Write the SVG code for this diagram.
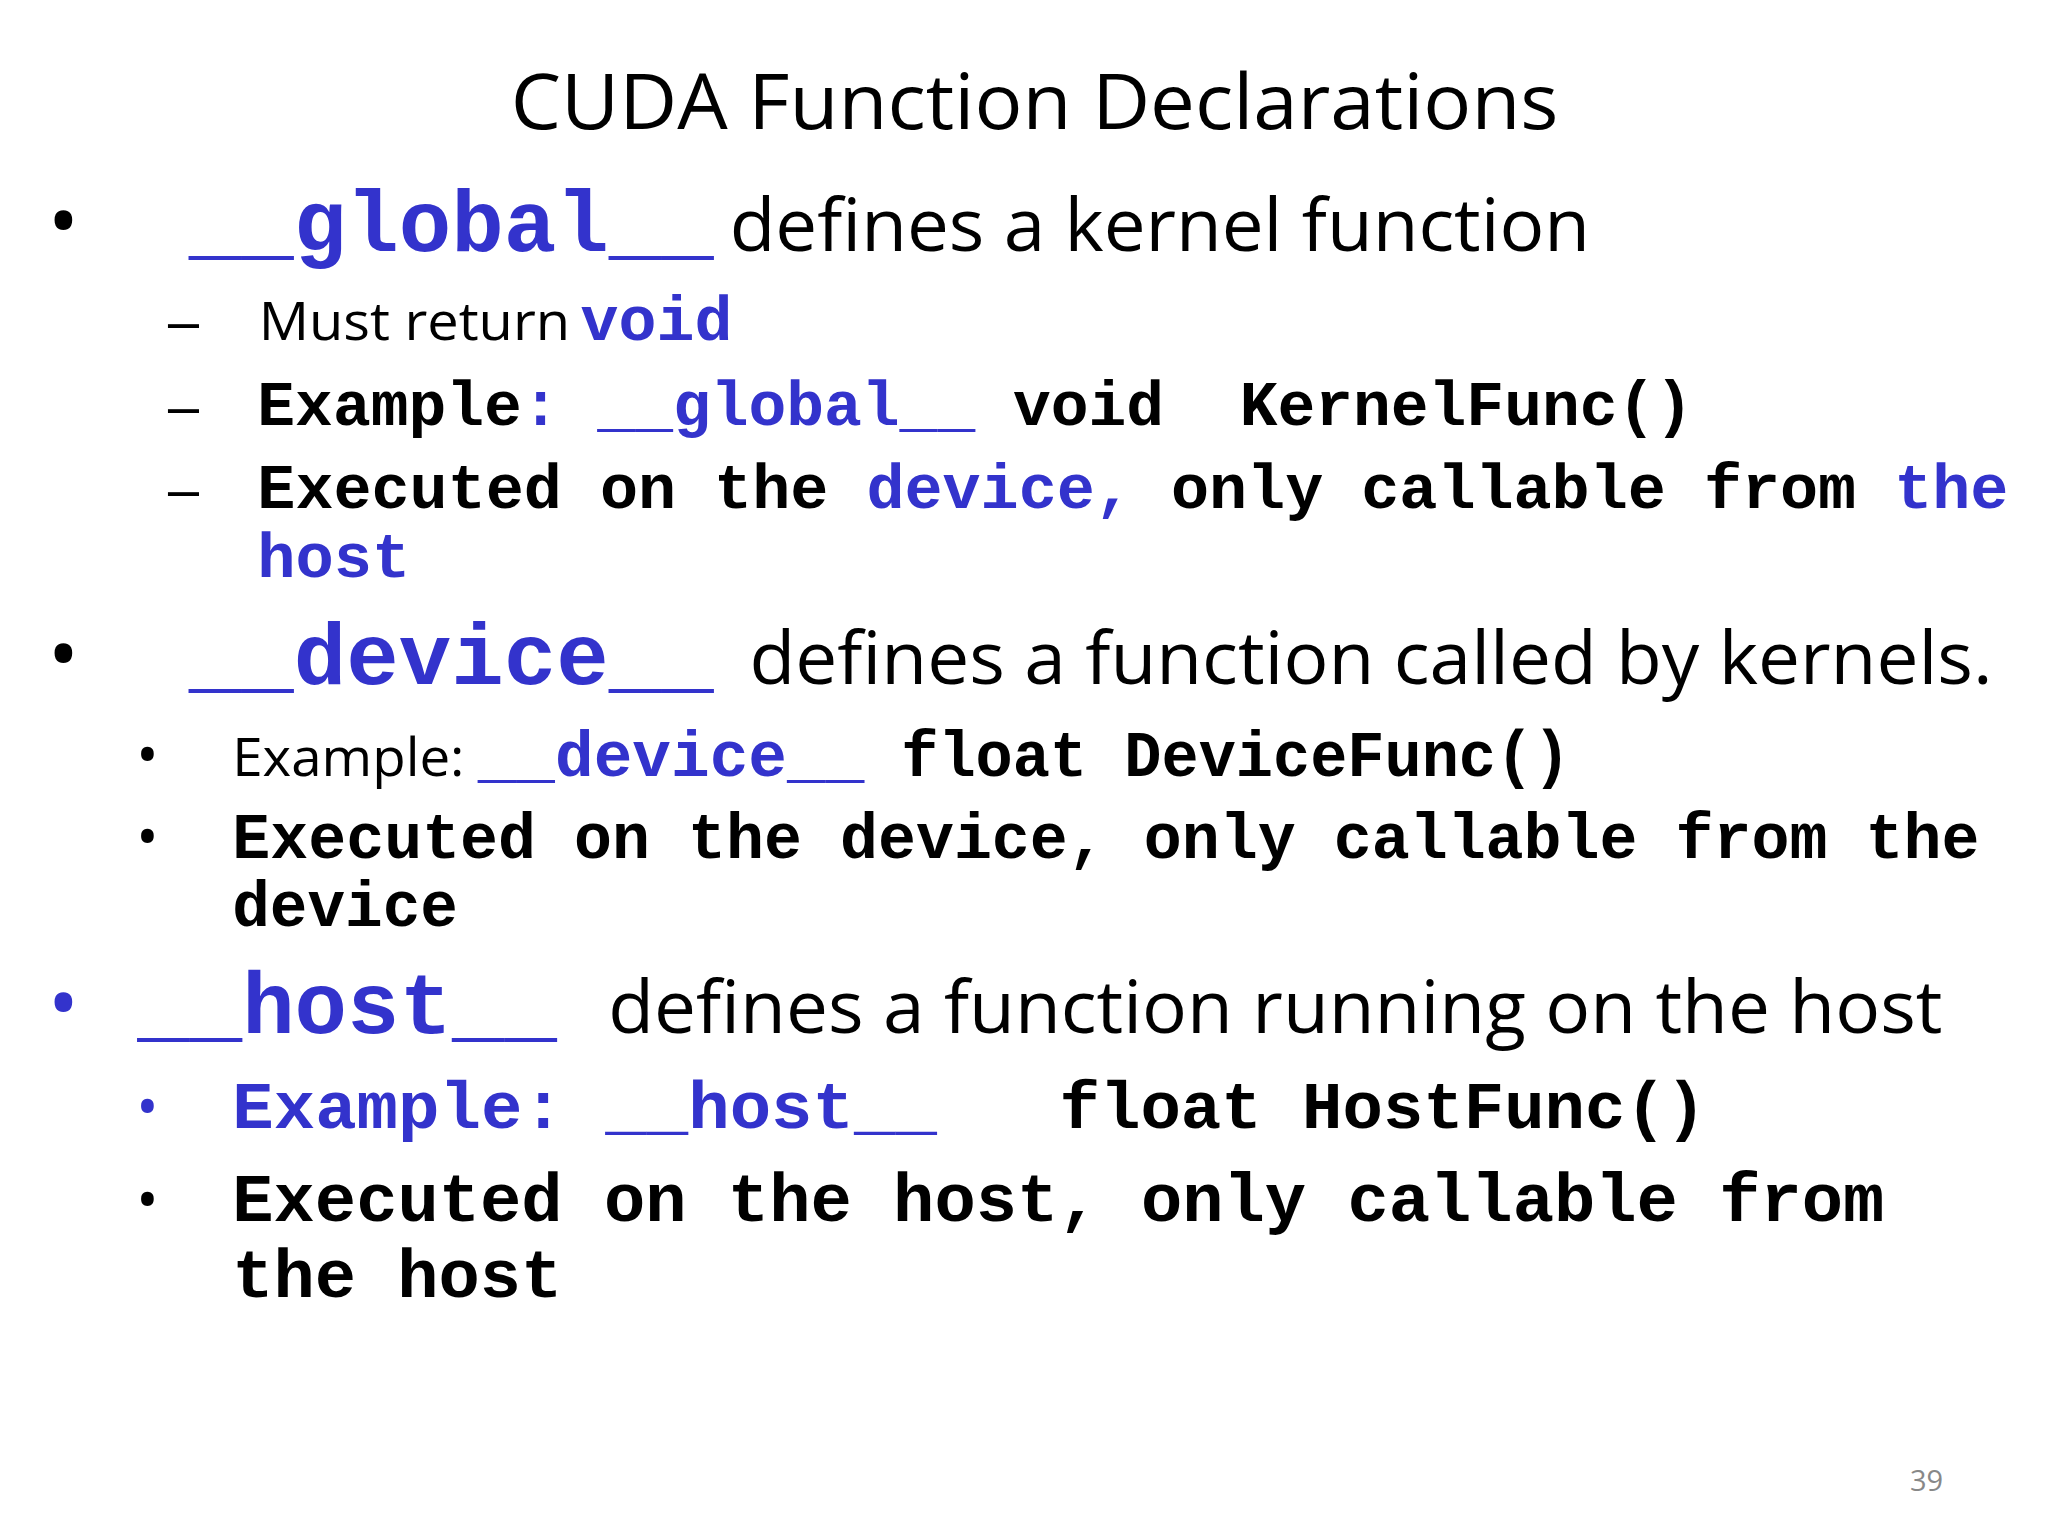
<svg xmlns="http://www.w3.org/2000/svg" width="2048" height="1536" viewBox="0 0 2048 1536">
<style>
.s{font-family:"Open Sans","Noto Sans",sans-serif;fill:#000}
.m{font-family:"Liberation Mono","Courier New",monospace;font-weight:bold;fill:#000}
.b{fill:#3333CC}
</style>
<rect width="2048" height="1536" fill="#fff"/>
<g transform="scale(1.3196)">
<g id="title"><text class="s" x="387" y="98" font-size="58" textLength="794" lengthAdjust="spacingAndGlyphs">CUDA Function Declarations</text></g>
<g id="global">
<text class="s" x="36" y="190" font-size="64">•</text>
<text class="m b" x="143" y="190" font-size="66" textLength="398" lengthAdjust="spacingAndGlyphs">__global__</text>
<text class="s" x="553" y="190" font-size="56" textLength="652" lengthAdjust="spacingAndGlyphs">defines a kernel function</text>
<text class="s" x="125" y="258" font-size="40" textLength="28" lengthAdjust="spacingAndGlyphs">–</text>
<text class="s" x="196" y="258" font-size="40" textLength="236" lengthAdjust="spacingAndGlyphs">Must return</text>
<text class="m b" x="440" y="258" font-size="48" textLength="115" lengthAdjust="spacingAndGlyphs">void</text>
<text class="s" x="125" y="322" font-size="40" textLength="28" lengthAdjust="spacingAndGlyphs">–</text>
<text class="m" x="195" y="322" font-size="48" xml:space="preserve" textLength="1088" lengthAdjust="spacingAndGlyphs">Example<tspan class="b">: __global__</tspan> void  KernelFunc()</text>
<text class="s" x="125" y="385" font-size="40" textLength="28" lengthAdjust="spacingAndGlyphs">–</text>
<text class="m" x="195" y="385" font-size="48" xml:space="preserve" textLength="1327" lengthAdjust="spacingAndGlyphs">Executed on the <tspan class="b">device,</tspan> only callable from <tspan class="b">the</tspan></text>
<text class="m b" x="195" y="437" font-size="48" textLength="116" lengthAdjust="spacingAndGlyphs">host</text>
</g>
<g id="device">
<text class="s" x="36" y="518" font-size="64">•</text>
<text class="m b" x="143" y="518" font-size="66" textLength="398" lengthAdjust="spacingAndGlyphs">__device__</text>
<text class="s" x="568" y="518" font-size="56" textLength="942" lengthAdjust="spacingAndGlyphs">defines a function called by kernels.</text>
<text class="s" x="103" y="588" font-size="46">•</text>
<text class="s" x="176" y="588" font-size="40" textLength="176" lengthAdjust="spacingAndGlyphs">Example:</text>
<text class="m b" x="362" y="588" font-size="49" textLength="293" lengthAdjust="spacingAndGlyphs">__device__</text>
<text class="m" x="683" y="588" font-size="49" textLength="507" lengthAdjust="spacingAndGlyphs">float DeviceFunc()</text>
<text class="s" x="103" y="650" font-size="46">•</text>
<text class="m" x="176" y="650" font-size="49" textLength="1324" lengthAdjust="spacingAndGlyphs">Executed on the device, only callable from the</text>
<text class="m" x="176" y="702" font-size="49" textLength="171" lengthAdjust="spacingAndGlyphs">device</text>
</g>
<g id="host">
<text class="s b" x="36" y="783" font-size="64">•</text>
<text class="m b" x="104" y="783" font-size="66" textLength="318" lengthAdjust="spacingAndGlyphs">__host__</text>
<text class="s" x="461" y="783" font-size="56" textLength="1011" lengthAdjust="spacingAndGlyphs">defines a function running on the host</text>
<text class="s b" x="103" y="855" font-size="46">•</text>
<text class="m b" x="176" y="855" font-size="50" xml:space="preserve" textLength="534" lengthAdjust="spacingAndGlyphs">Example: __host__</text>
<text class="m" x="803" y="855" font-size="50" textLength="490" lengthAdjust="spacingAndGlyphs">float HostFunc()</text>
<text class="s" x="103" y="925" font-size="46">•</text>
<text class="m" x="176" y="925" font-size="52" textLength="1252" lengthAdjust="spacingAndGlyphs">Executed on the host, only callable from</text>
<text class="m" x="176" y="983" font-size="52" textLength="250" lengthAdjust="spacingAndGlyphs">the host</text>
</g>
<g id="page"><text class="s" x="1460" y="1130" font-size="22" style="fill:#888" text-anchor="middle">39</text></g>
</g>
</svg>
